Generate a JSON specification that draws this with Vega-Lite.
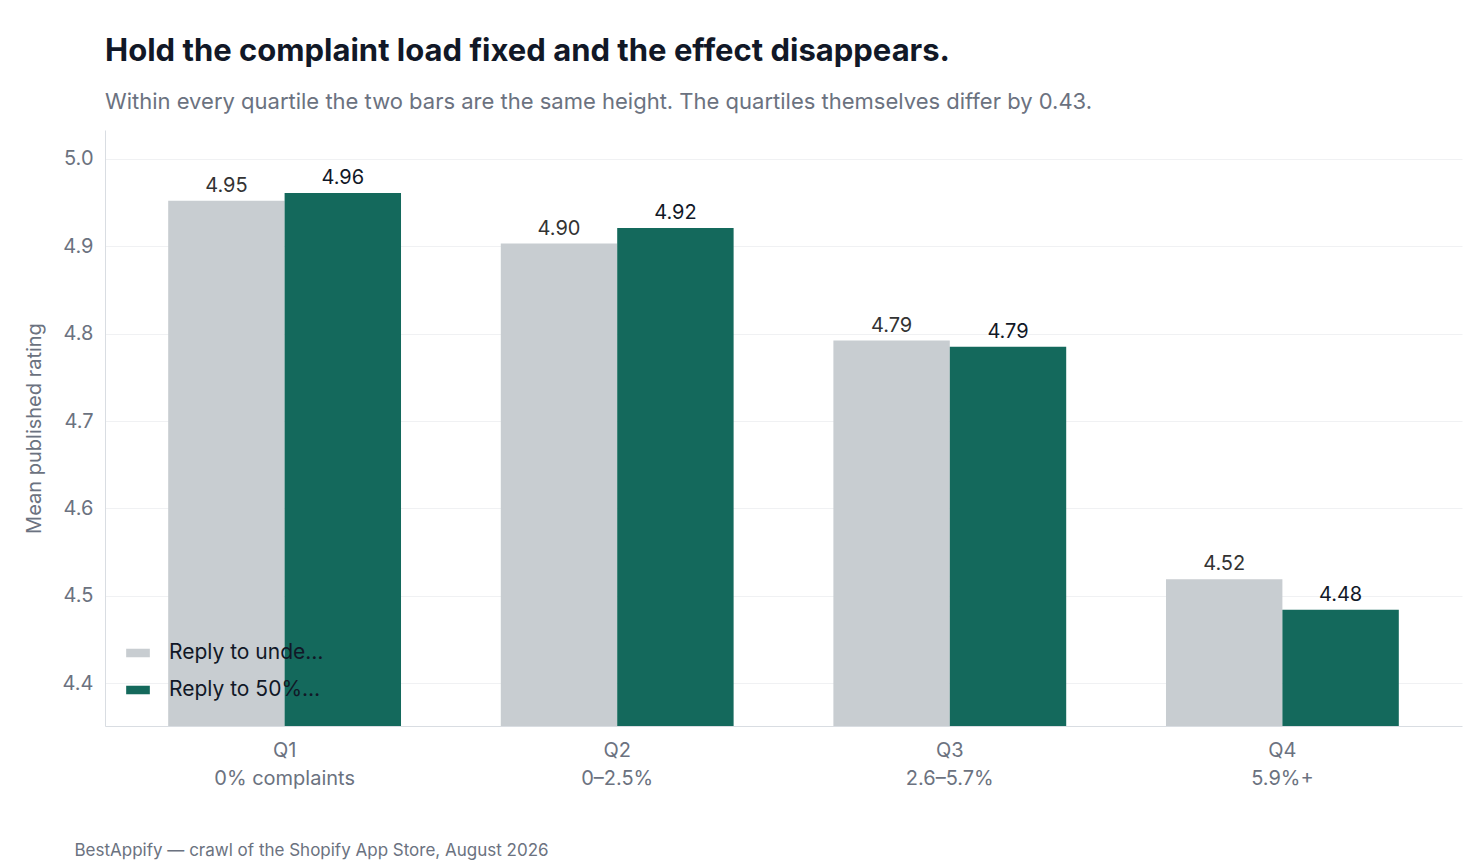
{
  "$schema": "https://vega.github.io/schema/vega-lite/v6.json",
  "autosize": {"type": "none"},
  "width": 1357,
  "height": 596,
  "padding": {"left": 105, "top": 130, "right": 17, "bottom": 136},
  "title": {
    "text": "Hold the complaint load fixed and the effect disappears.",
    "subtitle": "Within every quartile the two bars are the same height. The quartiles themselves differ by 0.43.",
    "anchor": "start",
    "frame": "group",
    "font": "Inter",
    "fontSize": 31,
    "fontWeight": "bold",
    "color": "#111827",
    "subtitleFont": "Inter",
    "subtitleFontSize": 22,
    "subtitleColor": "#6b7280",
    "subtitlePadding": 24,
    "offset": 16
  },
  "config": {
    "font": "Inter",
    "view": {"stroke": null},
    "axis": {"labelFont": "Inter", "titleFont": "Inter"}
  },
  "data": {
    "values": [
      {"q": "Q1|0% complaints", "group": "Reply to under 25% of reviews", "rating": 4.952, "label": "4.95"},
      {"q": "Q1|0% complaints", "group": "Reply to 50%+ of reviews", "rating": 4.961, "label": "4.96"},
      {"q": "Q2|0–2.5%", "group": "Reply to under 25% of reviews", "rating": 4.903, "label": "4.90"},
      {"q": "Q2|0–2.5%", "group": "Reply to 50%+ of reviews", "rating": 4.921, "label": "4.92"},
      {"q": "Q3|2.6–5.7%", "group": "Reply to under 25% of reviews", "rating": 4.792, "label": "4.79"},
      {"q": "Q3|2.6–5.7%", "group": "Reply to 50%+ of reviews", "rating": 4.785, "label": "4.79"},
      {"q": "Q4|5.9%+", "group": "Reply to under 25% of reviews", "rating": 4.519, "label": "4.52"},
      {"q": "Q4|5.9%+", "group": "Reply to 50%+ of reviews", "rating": 4.484, "label": "4.48"}
    ]
  },
  "encoding": {
    "x": {
      "field": "q", "type": "nominal", "sort": null,
      "scale": {"paddingInner": 0.3, "paddingOuter": 0.19},
      "axis": {
        "title": "BestAppify — crawl of the Shopify App Store, August 2026",
        "titleFontSize": 17, "titleFontWeight": "normal", "titleColor": "#6b7280",
        "titleAnchor": "start", "titleAlign": "left", "titleX": -31, "titleY": 116,
        "labelAngle": 0, "labelFontSize": 20, "labelColor": "#6b7280",
        "labelExpr": "split(datum.label, '|')", "labelPadding": 14, "labelLineHeight": 28,
        "ticks": false, "domainColor": "#d9dde2", "grid": false
      }
    },
    "xOffset": {"field": "group", "type": "nominal", "sort": ["Reply to under 25% of reviews", "Reply to 50%+ of reviews"]},
    "y": {
      "field": "rating", "type": "quantitative",
      "scale": {"domain": [4.351, 5.033], "zero": false, "nice": false},
      "axis": {
        "title": "Mean published rating", "titleFontSize": 20, "titleFontWeight": "normal",
        "titleColor": "#6b7280", "titlePadding": 18,
        "values": [4.4, 4.5, 4.6, 4.7, 4.8, 4.9, 5.0], "format": ".1f",
        "labelFontSize": 20, "labelColor": "#6b7280", "labelPadding": 12,
        "ticks": false, "domainColor": "#d9dde2", "gridColor": "#f0f1f3"
      }
    }
  },
  "layer": [
    {
      "mark": {"type": "bar", "clip": true},
      "encoding": {
        "color": {
          "field": "group", "type": "nominal",
          "scale": {"domain": ["Reply to under 25% of reviews", "Reply to 50%+ of reviews"], "range": ["#c8cdd1", "#14695c"]},
          "legend": {
            "title": null, "orient": "none", "legendX": 20, "legendY": 510,
            "labelFontSize": 21, "labelColor": "#111827", "rowPadding": 14,
            "symbolType": "M-1,-0.36H1V0.36H-1Z", "symbolSize": 560, "symbolOpacity": 1,
            "labelOffset": 18
          }
        }
      }
    },
    {
      "mark": {"type": "text", "dy": -15, "fontSize": 20, "baseline": "middle"},
      "encoding": {
        "text": {"field": "label"},
        "fontWeight": {"condition": {"test": "datum.group == 'Reply to 50%+ of reviews'", "value": "bold"}, "value": "normal"},
        "color": {"condition": {"test": "datum.group == 'Reply to 50%+ of reviews'", "value": "#111827"}, "value": "#333333"}
      }
    }
  ]
}
